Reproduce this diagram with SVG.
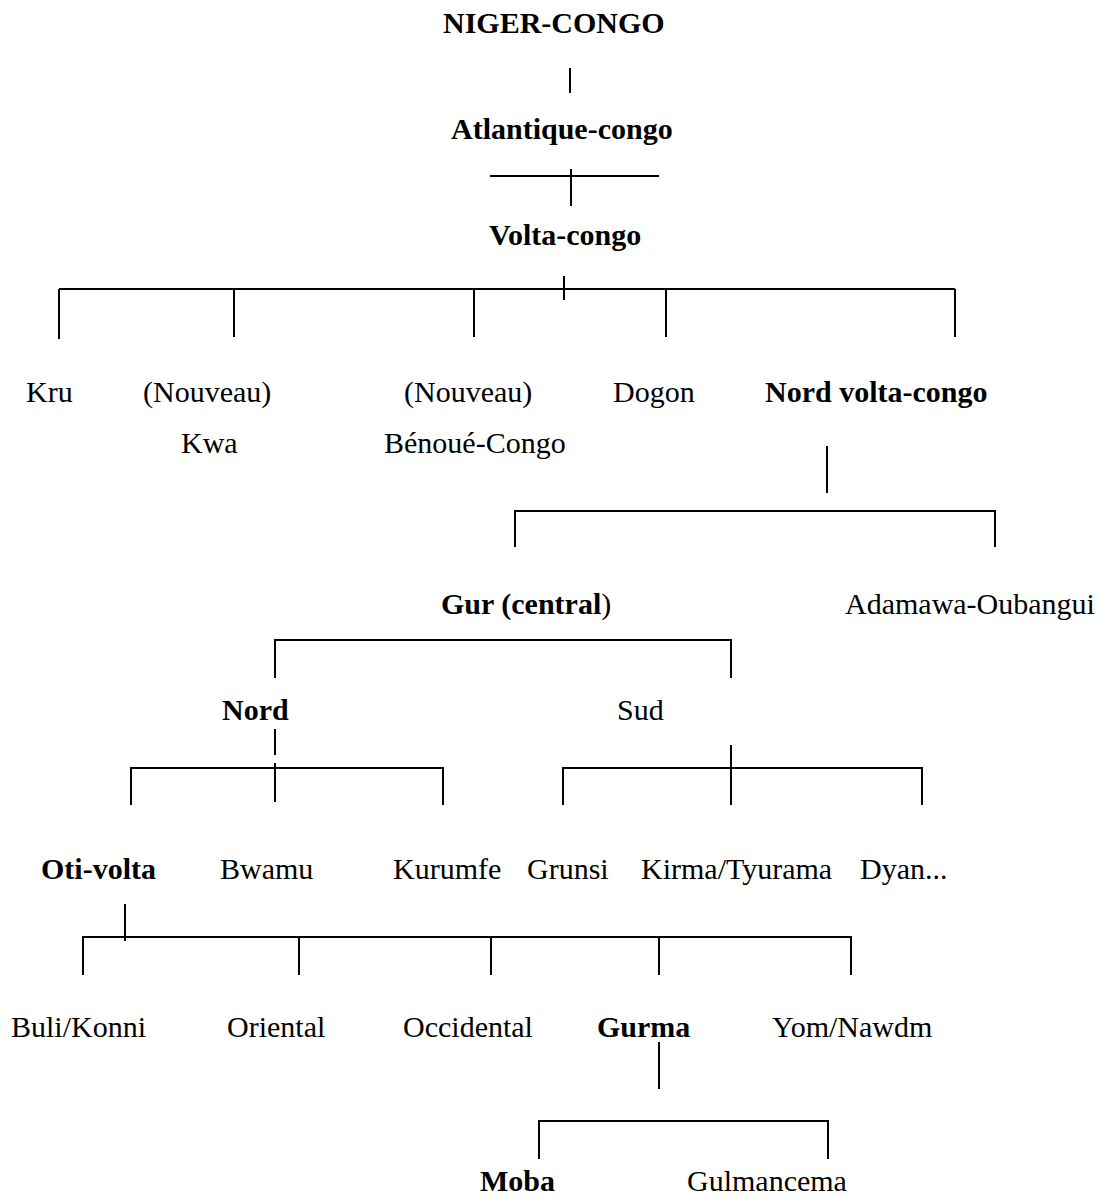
<svg xmlns="http://www.w3.org/2000/svg" width="1106" height="1198" viewBox="0 0 1106 1198">
<style>
text{font-family:"Liberation Serif","Times New Roman",serif;font-size:30px;fill:#000}
.b{font-weight:bold}
.r{font-weight:normal}
#connectors line{stroke:#000;stroke-width:2;stroke-linecap:butt}
</style>
<rect width="1106" height="1198" fill="#fff"/>
<g id="connectors">
<line x1="570" y1="68" x2="570" y2="93"/>
<line x1="490" y1="176" x2="659" y2="176"/>
<line x1="571" y1="169" x2="571" y2="206"/>
<line x1="59" y1="289" x2="955" y2="289"/>
<line x1="564" y1="276" x2="564" y2="300"/>
<line x1="59" y1="289" x2="59" y2="339"/>
<line x1="234" y1="289" x2="234" y2="337"/>
<line x1="474" y1="289" x2="474" y2="337"/>
<line x1="666" y1="289" x2="666" y2="337"/>
<line x1="955" y1="289" x2="955" y2="337"/>
<line x1="827" y1="446" x2="827" y2="493"/>
<line x1="515" y1="511" x2="995" y2="511"/>
<line x1="515" y1="510" x2="515" y2="547"/>
<line x1="995" y1="510" x2="995" y2="547"/>
<line x1="275" y1="640" x2="731" y2="640"/>
<line x1="275" y1="639" x2="275" y2="678"/>
<line x1="731" y1="639" x2="731" y2="678"/>
<line x1="275" y1="729" x2="275" y2="755"/>
<line x1="131" y1="768" x2="443" y2="768"/>
<line x1="131" y1="767" x2="131" y2="805"/>
<line x1="275" y1="763" x2="275" y2="802"/>
<line x1="443" y1="767" x2="443" y2="805"/>
<line x1="731" y1="745" x2="731" y2="805"/>
<line x1="563" y1="768" x2="922" y2="768"/>
<line x1="563" y1="767" x2="563" y2="805"/>
<line x1="922" y1="767" x2="922" y2="805"/>
<line x1="125" y1="904" x2="125" y2="941"/>
<line x1="83" y1="937" x2="851" y2="937"/>
<line x1="83" y1="936" x2="83" y2="975"/>
<line x1="299" y1="937" x2="299" y2="975"/>
<line x1="491" y1="937" x2="491" y2="975"/>
<line x1="659" y1="937" x2="659" y2="975"/>
<line x1="851" y1="936" x2="851" y2="975"/>
<line x1="659" y1="1042" x2="659" y2="1089"/>
<line x1="539" y1="1121" x2="828" y2="1121"/>
<line x1="539" y1="1120" x2="539" y2="1159"/>
<line x1="828" y1="1120" x2="828" y2="1159"/>
</g>
<g id="niger-congo"><text class="b" x="443" y="33">NIGER-CONGO</text></g>
<g id="atlantique-congo"><text class="b" x="451" y="139">Atlantique-congo</text></g>
<g id="volta-congo"><text class="b" x="489" y="245">Volta-congo</text></g>
<g id="kru"><text x="26" y="402">Kru</text></g>
<g id="kwa"><text x="143" y="402">(Nouveau)</text><text x="181" y="453">Kwa</text></g>
<g id="benoue-congo"><text x="404" y="402">(Nouveau)</text><text x="384" y="453">Bénoué-Congo</text></g>
<g id="dogon"><text x="613" y="402">Dogon</text></g>
<g id="nord-volta-congo"><text class="b" x="765" y="402">Nord volta-congo</text></g>
<g id="gur"><text class="b" x="441" y="614">Gur (central<tspan class="r">)</tspan></text></g>
<g id="adamawa"><text x="845" y="614">Adamawa-Oubangui</text></g>
<g id="nord"><text class="b" x="222" y="720">Nord</text></g>
<g id="sud"><text x="617" y="720">Sud</text></g>
<g id="oti-volta"><text class="b" x="41" y="879">Oti-volta</text></g>
<g id="bwamu"><text x="220" y="879">Bwamu</text></g>
<g id="kurumfe"><text x="393" y="879">Kurumfe</text></g>
<g id="grunsi"><text x="527" y="879">Grunsi</text></g>
<g id="kirma"><text x="641" y="879">Kirma/Tyurama</text></g>
<g id="dyan"><text x="860" y="879">Dyan...</text></g>
<g id="buli"><text x="11" y="1037">Buli/Konni</text></g>
<g id="oriental"><text x="227" y="1037">Oriental</text></g>
<g id="occidental"><text x="403" y="1037">Occidental</text></g>
<g id="gurma"><text class="b" x="597" y="1037">Gurma</text></g>
<g id="yom"><text x="772" y="1037">Yom/Nawdm</text></g>
<g id="moba"><text class="b" x="480" y="1191">Moba</text></g>
<g id="gulmancema"><text x="687" y="1191">Gulmancema</text></g>
</svg>
